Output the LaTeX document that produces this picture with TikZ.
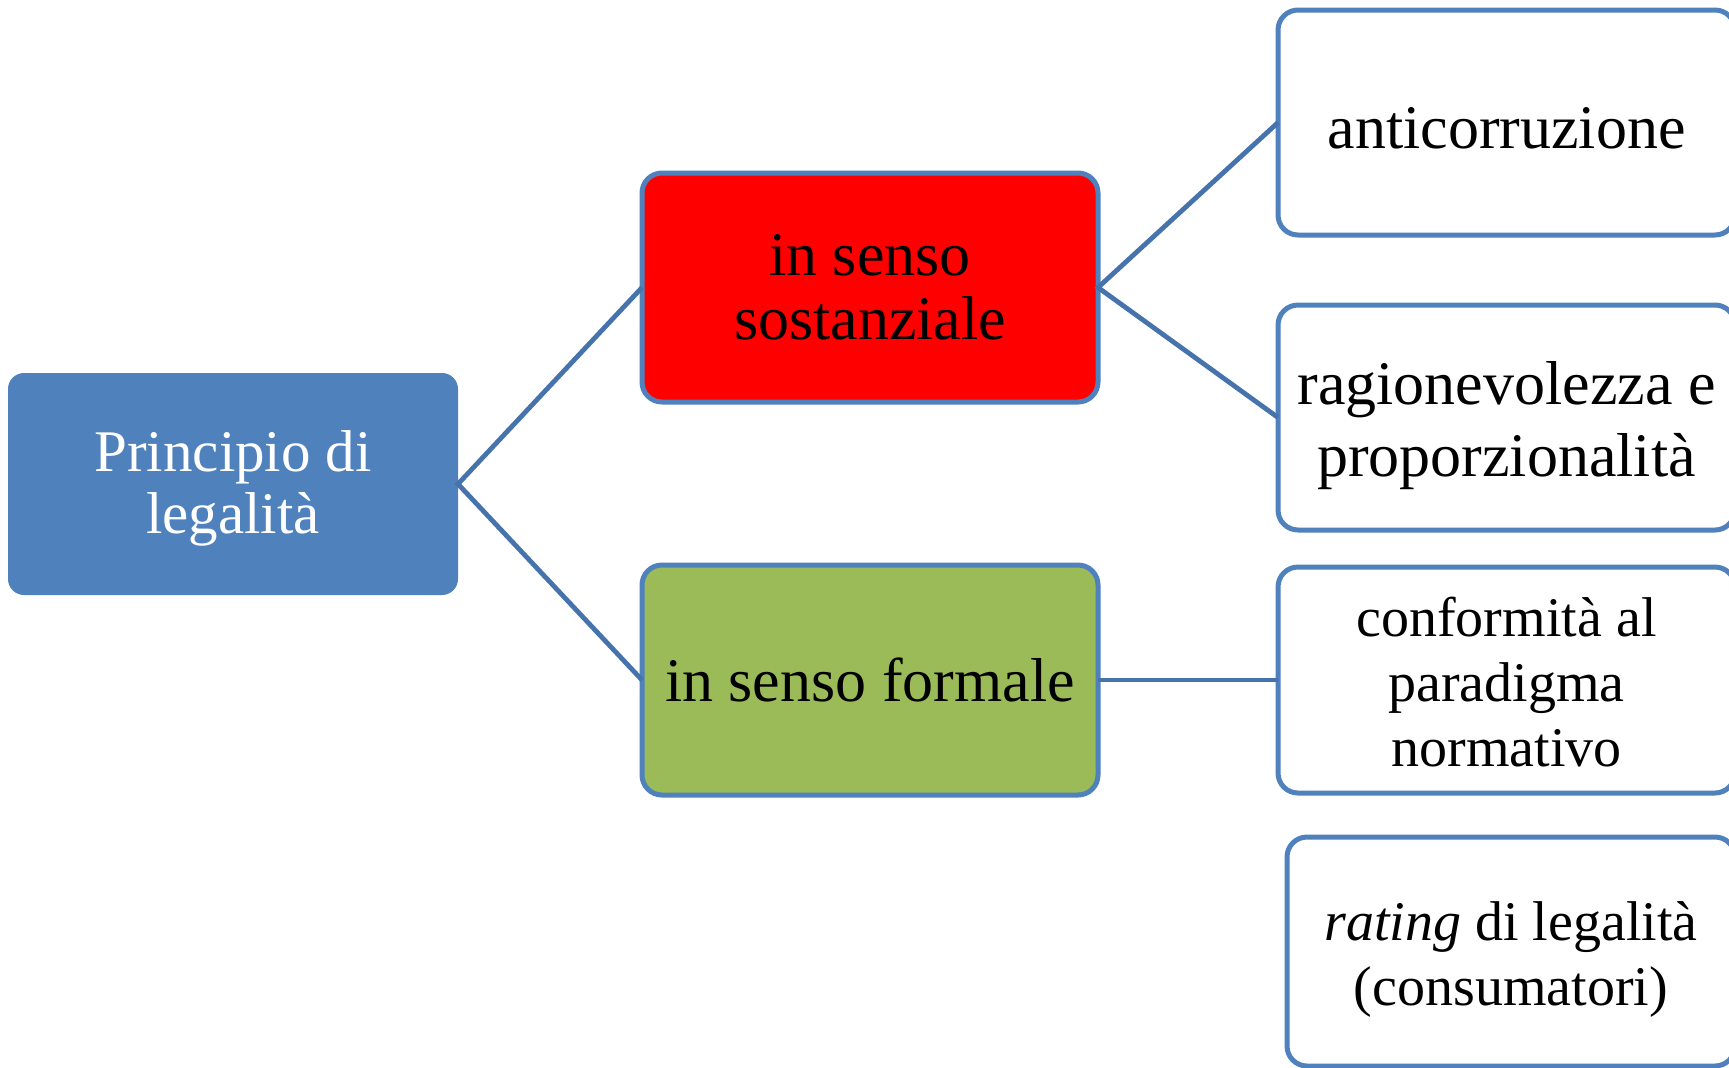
\documentclass[tikz,border=0pt]{standalone}
\usepackage{fontspec}
\setmainfont{Liberation Serif}
\definecolor{boxblue}{HTML}{4F81BD}
\definecolor{linkblue}{HTML}{4673AC}
\definecolor{leafred}{HTML}{FF0000}
\definecolor{leafgreen}{HTML}{9BBB59}
\begin{document}
\begin{tikzpicture}[x=0.5pt,y=-0.5pt,
  box/.style={rectangle,rounded corners=10pt,draw=boxblue,line width=2.5pt,
    inner sep=0pt,outer sep=0pt},
  rootbox/.style={rectangle,rounded corners=8pt,fill=boxblue,
    inner sep=0pt,outer sep=0pt},
  label text/.style={align=center,inner sep=0pt},
  bigtext/.style={label text,font=\fontsize{31}{36}\selectfont},
  midtext/.style={label text,font=\fontsize{31}{32}\selectfont},
  roottext/.style={label text,text=white,font=\fontsize{29.5}{31}\selectfont},
  smalltext/.style={label text,font=\fontsize{28}{32.5}\selectfont},
  link/.style={draw=linkblue,line width=2.4pt}]
\useasboundingbox (0,0) rectangle (1729,1067);
\clip (0,0) rectangle (1729,1067);

% root
\node[rootbox,minimum width=225pt,minimum height=111pt] (P) at (233,484) {};
\node[roottext] (Pt) at ([yshift=-2pt]P.center) {Principio di\\legalità};

% second level
\node[box,fill=leafred,minimum width=228pt,minimum height=114.5pt] (S)
  at (870,287.5) {};
\node[midtext] (St) at (S.center) {in senso\\sostanziale};
\node[box,fill=leafgreen,minimum width=228pt,minimum height=115pt] (F)
  at (870,680) {};
\node[bigtext] (Ft) at (F.center) {in senso formale};

% leaves (their right ends run past the clip)
\node[box,fill=white,minimum width=228.5pt,minimum height=112.5pt] (A)
  at (1506.5,122.5) {};
\node[bigtext] (At) at ([yshift=-3pt]A.center) {anticorruzione};
\node[box,fill=white,minimum width=228.5pt,minimum height=112.5pt] (R)
  at (1506.5,417.5) {};
\node[bigtext] (Rt) at ([yshift=-4pt]R.center) {ragionevolezza e\\proporzionalità};
\node[box,fill=white,minimum width=228.5pt,minimum height=113pt] (C)
  at (1506.5,680) {};
\node[smalltext] (Ct) at ([yshift=-1pt]C.center) {conformità al\\paradigma\\normativo};
\node[box,fill=white,minimum width=224pt,minimum height=114.5pt] (G)
  at (1511,951.5) {};
\node[smalltext] (Gt) at ([yshift=-4pt]G.center) {\textit{rating} di legalità\\(consumatori)};

% connectors
\draw[link,line join=miter] (S.west) -- (P.east) -- (F.west);
\draw[link,line join=miter] (A.west) -- (S.east) -- (R.west);
\draw[link] (F.east) -- (C.west);
\end{tikzpicture}
\end{document}
